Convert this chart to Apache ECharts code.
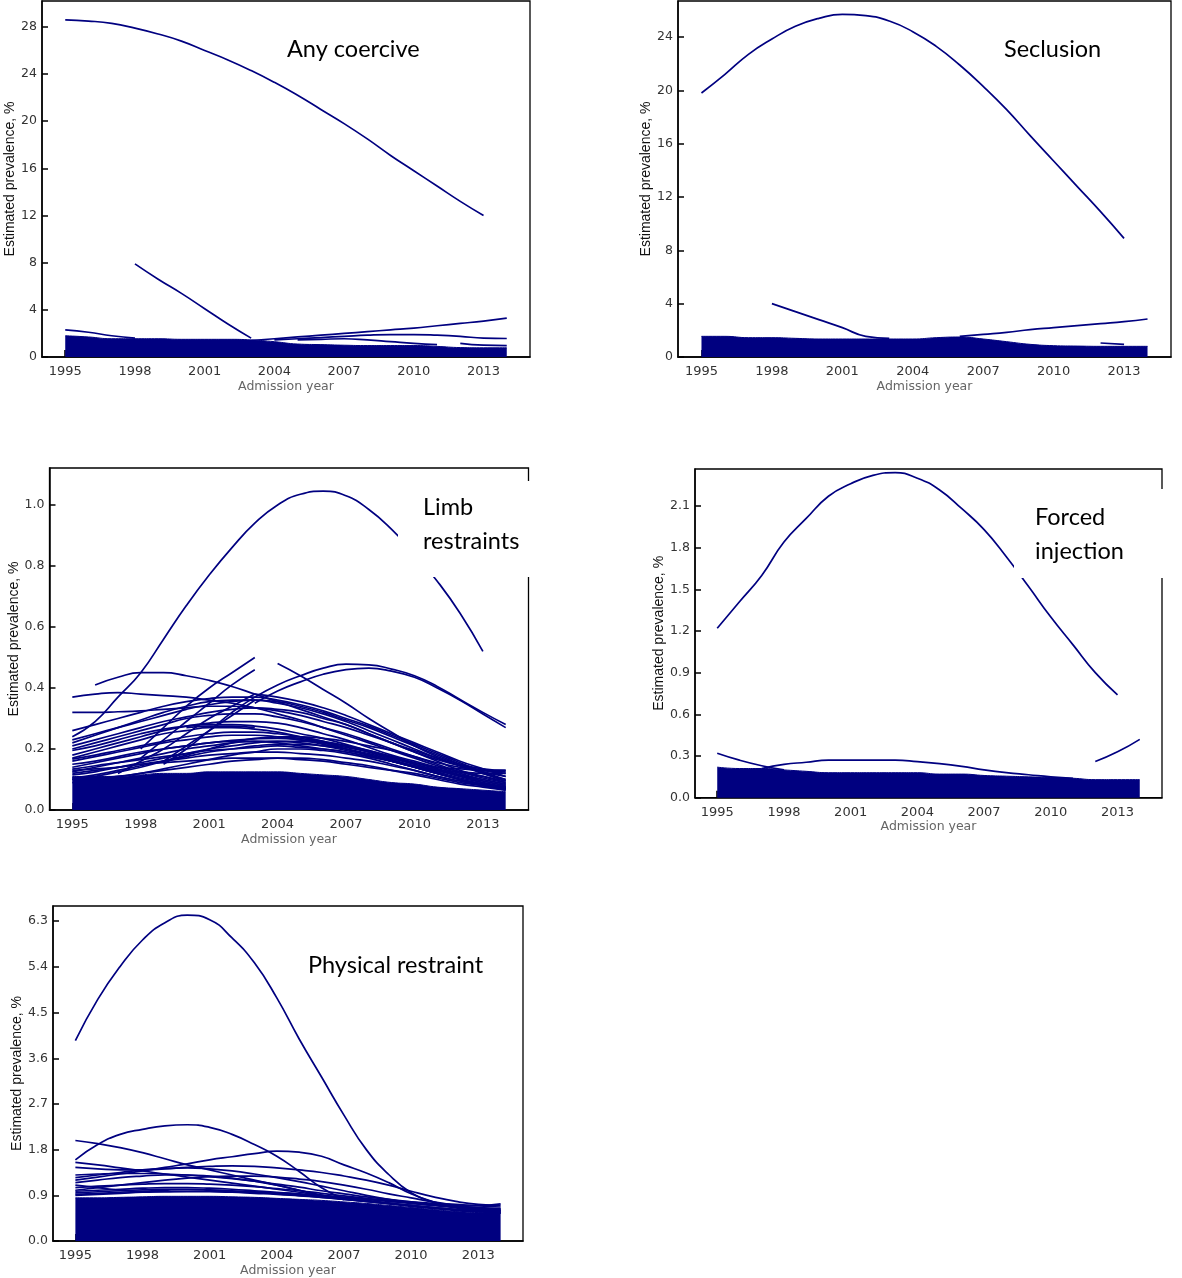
<!DOCTYPE html>
<html><head><meta charset="utf-8">
<script src="https://cdn.jsdelivr.net/npm/echarts@6/dist/echarts.min.js"></script>
<style>html,body{margin:0;padding:0;background:#fff}#c{width:1182px;height:1278px}</style>
</head><body><div id="c"></div><script>
// ---------- data ----------
const years = [1995,1996,1997,1998,1999,2000,2001,2002,2003,2004,2005,2006,2007,2008,2009,2010,2011,2012,2013,2014];
const xTicks = [1995,1998,2001,2004,2007,2010,2013];
const _ = null;

// Panel 1: Any coercive
const anyCoerciveLines = [
  [28.6,28.5,28.3,27.9,27.4,26.8,26.0,25.2,24.3,23.3,22.2,21.0,19.8,18.5,17.1,15.8,14.5,13.2,12.0,_],
  [_,_,_,7.9,6.6,5.4,4.1,2.8,1.6,_,_,_,_,_,_,_,_,_,_,_],
  [_,_,_,_,_,_,_,_,1.4,1.55,1.7,1.85,2.0,2.15,2.3,2.45,2.65,2.85,3.05,3.3],
  [2.3,2.1,1.8,1.6,_,_,_,_,_,_,_,_,_,_,_,_,_,_,_,_],
  [_,_,_,_,_,_,_,_,_,1.45,1.55,1.65,1.75,1.85,1.9,1.9,1.85,1.75,1.6,1.57],
  [_,_,_,_,_,_,_,_,_,_,1.45,1.5,1.55,1.45,1.3,1.15,1.05,_,_,_],
  [_,_,_,_,_,_,_,_,_,_,_,_,_,_,_,_,_,1.15,1.0,0.97]
];
const anyCoerciveMass = [1.8,1.7,1.55,1.55,1.55,1.5,1.5,1.5,1.45,1.3,1.1,1.05,1.0,0.97,0.97,0.97,0.9,0.8,0.78,0.78];

// Panel 2: Seclusion
const seclusionLines = [
  [19.8,21.2,22.7,23.85,24.8,25.4,25.7,25.6,25.2,24.4,23.3,21.9,20.3,18.55,16.6,14.7,12.8,10.9,8.9,_],
  [_,_,_,4.0,3.4,2.8,2.2,1.55,1.4,_,_,_,_,_,_,_,_,_,_,_],
  [_,_,_,_,_,_,_,_,_,_,_,1.55,1.7,1.85,2.05,2.2,2.35,2.5,2.65,2.85],
  [_,_,_,_,_,_,_,_,_,_,_,_,_,_,_,_,_,1.05,0.95,_]
];
const seclusionMass = [1.55,1.55,1.45,1.45,1.4,1.35,1.35,1.35,1.35,1.35,1.45,1.5,1.35,1.15,0.95,0.85,0.82,0.8,0.8,0.8];

// Panel 3: Limb restraints
const limbLines = [
  [0.24,0.29,0.37,0.45,0.56,0.67,0.77,0.86,0.94,1.0,1.035,1.045,1.03,0.985,0.92,0.84,0.75,0.645,0.52,_],
  [_,_,_,_,0.15,0.2,0.26,0.32,0.37,0.41,0.44,0.465,0.478,0.476,0.462,0.44,0.405,0.362,0.32,0.28],
  [_,_,_,_,_,_,_,_,0.35,0.39,0.42,0.445,0.46,0.465,0.455,0.435,0.4,0.36,0.315,0.27],
  [_,_,_,0.2,0.27,0.34,0.4,0.45,0.5,_,_,_,_,_,_,_,_,_,_,_],
  [_,_,_,0.17,0.23,0.29,0.35,0.41,0.46,_,_,_,_,_,_,_,_,_,_,_],
  [_,_,0.12,0.16,0.2,0.25,0.3,0.34,0.38,_,_,_,_,_,_,_,_,_,_,_],
  [_,_,_,_,0.16,0.21,0.26,0.31,0.36,_,_,_,_,_,_,_,_,_,_,_],
  [_,_,_,_,_,_,_,_,_,0.48,0.44,0.395,0.35,0.30,0.255,0.21,0.175,0.15,0.135,0.13],
  [_,0.41,0.435,0.45,0.45,0.44,0.425,0.405,0.38,0.355,0.33,0.305,0.28,0.25,0.22,0.19,0.165,0.145,0.13,0.12],
  [0.37,0.38,0.385,0.38,0.375,0.37,0.36,0.35,0.335,0.315,0.295,0.27,0.245,0.22,0.195,0.17,0.145,0.125,0.11,0.095],
  [0.32,0.32,0.322,0.325,0.33,0.335,0.34,0.34,0.335,0.325,0.31,0.29,0.27,0.245,0.22,0.195,0.17,0.145,0.125,0.11],
  [0.26,0.28,0.3,0.32,0.34,0.355,0.365,0.37,0.37,0.36,0.345,0.325,0.3,0.275,0.245,0.215,0.185,0.155,0.125,0.1],
  [0.23,0.25,0.27,0.29,0.31,0.33,0.345,0.355,0.36,0.355,0.34,0.32,0.295,0.27,0.24,0.21,0.18,0.15,0.12,0.095],
  [0.21,0.23,0.25,0.27,0.29,0.305,0.32,0.33,0.335,0.33,0.32,0.3,0.28,0.25,0.22,0.19,0.16,0.13,0.11,0.09],
  [0.195,0.21,0.23,0.25,0.265,0.275,0.28,0.28,0.275,0.265,0.25,0.235,0.215,0.195,0.175,0.155,0.135,0.115,0.095,0.08],
  [0.167,0.18,0.195,0.21,0.225,0.24,0.25,0.255,0.255,0.25,0.24,0.225,0.21,0.19,0.17,0.15,0.13,0.11,0.095,0.08],
  [0.15,0.16,0.175,0.19,0.2,0.21,0.22,0.228,0.233,0.235,0.23,0.22,0.205,0.19,0.17,0.15,0.13,0.11,0.09,0.075],
  [0.134,0.145,0.155,0.165,0.175,0.185,0.195,0.2,0.205,0.21,0.205,0.2,0.19,0.175,0.16,0.14,0.12,0.1,0.085,0.07],
  [0.12,0.13,0.14,0.15,0.16,0.17,0.18,0.185,0.19,0.19,0.185,0.18,0.17,0.16,0.145,0.13,0.11,0.095,0.08,0.07],
  [0.17,0.19,0.21,0.23,0.25,0.26,0.27,0.27,0.265,0.255,0.24,0.225,0.21,0.19,0.17,0.155,0.14,0.135,0.13,0.13],
  [0.14,0.155,0.17,0.185,0.2,0.21,0.22,0.225,0.225,0.22,0.21,0.2,0.19,0.175,0.16,0.145,0.13,0.125,0.12,0.12],
  [_,_,_,_,_,0.27,0.275,0.275,0.27,_,_,_,_,_,_,_,_,_,_,_],
  [0.1,0.11,0.125,0.14,0.16,0.18,0.2,0.22,0.235,0.24,0.235,0.22,0.2,0.18,0.16,0.14,0.12,0.1,0.085,0.07],
  [0.09,0.1,0.11,0.12,0.135,0.15,0.165,0.18,0.19,0.2,0.2,0.195,0.185,0.17,0.15,0.13,0.11,0.095,0.08,0.065],
  [0.105,0.115,0.13,0.145,0.16,0.175,0.19,0.2,0.21,0.215,0.215,0.21,0.2,0.185,0.165,0.145,0.125,0.105,0.09,0.075],
  [0.115,0.125,0.14,0.155,0.17,0.185,0.2,0.21,0.22,0.225,0.225,0.22,0.21,0.195,0.175,0.155,0.135,0.115,0.1,0.085],
  [0.125,0.14,0.155,0.17,0.185,0.2,0.21,0.22,0.225,0.225,0.22,0.21,0.195,0.18,0.16,0.14,0.12,0.1,0.085,0.07],
  [0.16,0.175,0.19,0.205,0.22,0.23,0.24,0.245,0.245,0.24,0.23,0.215,0.2,0.18,0.16,0.14,0.12,0.1,0.085,0.075],
  [0.18,0.2,0.22,0.24,0.26,0.275,0.285,0.29,0.29,0.285,0.27,0.25,0.23,0.205,0.18,0.16,0.14,0.12,0.1,0.085],
  [0.2,0.22,0.24,0.26,0.28,0.3,0.31,0.315,0.315,0.305,0.29,0.27,0.25,0.225,0.2,0.175,0.15,0.125,0.105,0.09],
  [0.22,0.245,0.27,0.295,0.32,0.34,0.355,0.36,0.36,0.35,0.335,0.315,0.29,0.26,0.23,0.2,0.17,0.145,0.12,0.1],
  [0.13,0.135,0.14,0.15,0.155,0.16,0.165,0.17,0.17,0.17,0.165,0.16,0.15,0.14,0.13,0.12,0.105,0.09,0.08,0.07],
  [0.1,0.105,0.11,0.12,0.13,0.14,0.15,0.16,0.165,0.17,0.17,0.165,0.155,0.145,0.13,0.115,0.1,0.085,0.075,0.065],
  [_,_,_,_,_,_,_,_,_,0.24,0.24,0.235,0.225,0.21,0.195,0.175,0.155,0.14,0.13,0.125],
  [_,_,_,_,_,_,_,_,0.38,0.37,0.355,0.335,0.31,0.28,0.25,0.22,0.19,0.16,0.135,0.11]
];
const limbMass = [0.11,0.11,0.11,0.115,0.12,0.12,0.125,0.125,0.125,0.125,0.12,0.115,0.11,0.1,0.09,0.085,0.075,0.07,0.065,0.06];

// Panel 4: Forced injection
const injectionLines = [
  [1.22,1.41,1.6,1.84,2.01,2.17,2.26,2.32,2.34,2.3,2.215,2.08,1.93,1.735,1.52,1.3,1.1,0.9,0.74,_],
  [_,_,_,_,_,_,_,_,_,_,_,_,_,_,_,_,_,0.26,0.33,0.42],
  [0.32,0.27,0.23,0.2,_,_,_,_,_,_,_,_,_,_,_,_,_,_,_,_],
  [_,_,0.21,0.24,0.255,0.27,0.27,0.27,0.27,0.26,0.245,0.225,0.2,0.18,0.165,0.15,0.14,_,_,_]
];
const injectionMass = [0.22,0.21,0.21,0.2,0.19,0.18,0.18,0.18,0.18,0.18,0.17,0.17,0.16,0.155,0.15,0.145,0.14,0.13,0.13,0.13];

// Panel 5: Physical restraint
const physicalLines = [
  [3.95,4.76,5.41,5.93,6.27,6.42,6.33,5.97,5.48,4.79,3.98,3.23,2.48,1.8,1.31,0.95,0.76,0.65,0.6,_],
  [1.6,1.9,2.1,2.2,2.27,2.29,2.24,2.1,1.9,1.67,1.37,1.05,0.82,_,_,_,_,_,_,_],
  [1.98,1.92,1.84,1.74,1.62,1.5,1.4,1.3,1.2,1.1,1.0,0.9,0.82,_,_,_,_,_,_,_],
  [1.2,1.26,1.32,1.38,1.45,1.52,1.6,1.66,1.72,1.77,1.75,1.67,1.5,1.34,1.15,0.93,0.77,0.67,0.62,0.6],
  [1.45,1.42,1.4,1.4,1.42,1.45,1.47,1.48,1.47,1.44,1.4,1.35,1.28,1.2,1.1,0.98,0.87,0.78,0.72,0.7],
  [1.25,1.3,1.35,1.4,1.43,1.44,1.42,1.38,1.32,1.25,1.17,1.08,0.99,0.9,0.82,0.75,0.7,0.66,0.62,0.6],
  [1.15,1.2,1.25,1.28,1.3,1.3,1.28,1.24,1.18,1.1,1.0,0.9,0.82,_,_,_,_,_,_,_],
  [1.55,1.5,1.44,1.38,1.32,1.26,1.2,1.14,1.08,1.02,0.96,0.9,0.85,0.8,0.75,0.7,0.66,0.62,0.58,0.55],
  [1.05,1.08,1.1,1.12,1.13,1.13,1.12,1.1,1.07,1.03,0.99,0.94,0.89,0.84,0.79,0.74,0.7,0.67,0.65,0.63],
  [0.98,1.0,1.02,1.04,1.05,1.05,1.04,1.02,0.99,0.96,0.92,0.88,0.83,0.78,0.73,0.68,0.64,0.6,0.58,0.56],
  [1.1,1.05,1.0,0.98,0.97,0.97,0.97,0.96,0.94,0.92,0.89,0.86,0.82,0.78,0.74,0.7,0.66,0.62,0.6,0.58],
  [0.92,0.94,0.96,0.98,1.0,1.01,1.0,0.98,0.96,0.93,0.9,0.86,0.82,0.78,0.74,0.7,0.66,0.62,0.6,0.57],
  [1.3,1.32,1.33,1.33,1.32,1.3,1.27,1.23,1.18,1.12,1.06,0.99,0.93,0.87,0.82,0.77,0.72,0.68,0.65,0.62],
  [1.0,1.05,1.1,1.15,1.2,1.24,1.27,1.28,1.28,1.26,1.22,1.17,1.1,1.02,0.93,0.85,0.77,0.7,0.64,0.6],
  [0.95,0.97,0.99,1.01,1.02,1.02,1.01,0.99,0.97,0.95,0.93,0.9,0.86,0.82,0.78,0.74,0.71,0.68,0.66,0.64],
  [0.9,0.92,0.94,0.96,0.97,0.98,0.98,0.97,0.96,0.94,0.92,0.89,0.86,0.83,0.8,0.77,0.74,0.71,0.69,0.67],
  [_,_,_,_,_,_,_,_,_,_,_,_,_,_,_,_,0.74,0.72,0.7,0.73]
];
const physicalMass = [0.85,0.85,0.86,0.87,0.88,0.88,0.88,0.87,0.86,0.84,0.82,0.8,0.77,0.74,0.7,0.66,0.62,0.58,0.56,0.55];

// ---------- layout ----------
const NAVY = '#000080';
const panels = [
  {grid:{left:42, top:1, width:488, height:356}, max:30.2, interval:4, dec:0, lines:anyCoerciveLines, mass:anyCoerciveMass},
  {grid:{left:678, top:1, width:493, height:356}, max:26.7, interval:4, dec:0, lines:seclusionLines, mass:seclusionMass},
  {grid:{left:49.5, top:468, width:479, height:342}, max:1.121, interval:0.2, dec:1, lines:limbLines, mass:limbMass},
  {grid:{left:695, top:469, width:467, height:328.7}, max:2.366, interval:0.3, dec:1, lines:injectionLines, mass:injectionMass},
  {grid:{left:53, top:906, width:470, height:337.7}, max:6.6, interval:0.9, dec:1, lines:physicalLines, mass:physicalMass}
];

const pairs = arr => years.map((y,i)=>[y, arr[i]]).filter(d => d[1] !== null);

const grids=[], xAxes=[], yAxes=[], series=[];
panels.forEach((p, i) => {
  grids.push(Object.assign({show:true, borderColor:'#000', borderWidth:1.3, backgroundColor:'transparent', containLabel:false}, p.grid));
  xAxes.push({
    gridIndex:i, type:'value', min:1994, max:2015,
    name:'Admission year', nameLocation:'middle', nameGap:23,
    nameTextStyle:{fontSize:12.5, fontFamily:'DejaVu Sans', color:'#666'},
    axisLine:{show:true, lineStyle:{color:'#000', width:1.5}},
    axisTick:{show:true, inside:true, length:7, customValues:xTicks, lineStyle:{color:'#000', width:1.6}},
    axisLabel:{show:true, customValues:xTicks, margin:8, fontSize:13, fontFamily:'DejaVu Sans', color:'#333',
      formatter: v => String(Math.round(v))},
    splitLine:{show:false}
  });
  yAxes.push({
    gridIndex:i, type:'value', min:0, max:p.max, interval:p.interval,
    name:'Estimated prevalence, %', nameLocation:'middle', nameGap:21,
    nameTextStyle:{fontSize:14, fontFamily:'Liberation Sans', color:'#111'},
    axisLine:{show:true, lineStyle:{color:'#000', width:1.5}},
    axisTick:{show:true, inside:true, length:6, lineStyle:{color:'#000', width:1.5}},
    axisLabel:{show:true, margin:5, fontSize:12.5, fontFamily:'DejaVu Sans', color:'#333', showMaxLabel:false,
      formatter: v => Number(v).toFixed(p.dec)},
    splitLine:{show:false}
  });
  series.push({
    type:'line', xAxisIndex:i, yAxisIndex:i, data:pairs(p.mass), symbol:'none', smooth:0.5,
    lineStyle:{color:NAVY, width:1}, areaStyle:{color:NAVY, opacity:1}, silent:true, z:2
  });
  p.lines.forEach(l => series.push({
    type:'line', xAxisIndex:i, yAxisIndex:i, data:pairs(l), symbol:'none', smooth:0.5,
    lineStyle:{color:NAVY, width:1.7}, silent:true, z:3
  }));
});

const label = (text, x, y) => ({type:'text', x, y, z:110,
  style:{text, fontSize:23.5, fontFamily:'Lato', fill:'#000', verticalAlign:'middle', align:'left'}});

const option = {
  animation:false,
  backgroundColor:'#fff',
  grid:grids, xAxis:xAxes, yAxis:yAxes, series,
  graphic:[
    {type:'rect', z:100, shape:{x:398, y:481, width:145, height:96}, style:{fill:'#fff'}},
    {type:'rect', z:100, shape:{x:1014, y:489, width:170, height:89}, style:{fill:'#fff'}},
    label('Any coercive', 287, 49),
    label('Seclusion', 1004, 49),
    label('Limb', 423, 507),
    label('restraints', 423, 541),
    label('Forced', 1035, 517),
    label('injection', 1035, 551),
    label('Physical restraint', 308, 965)
  ]
};
const chart = echarts.init(document.getElementById('c'));
chart.setOption(option);
</script></body></html>
